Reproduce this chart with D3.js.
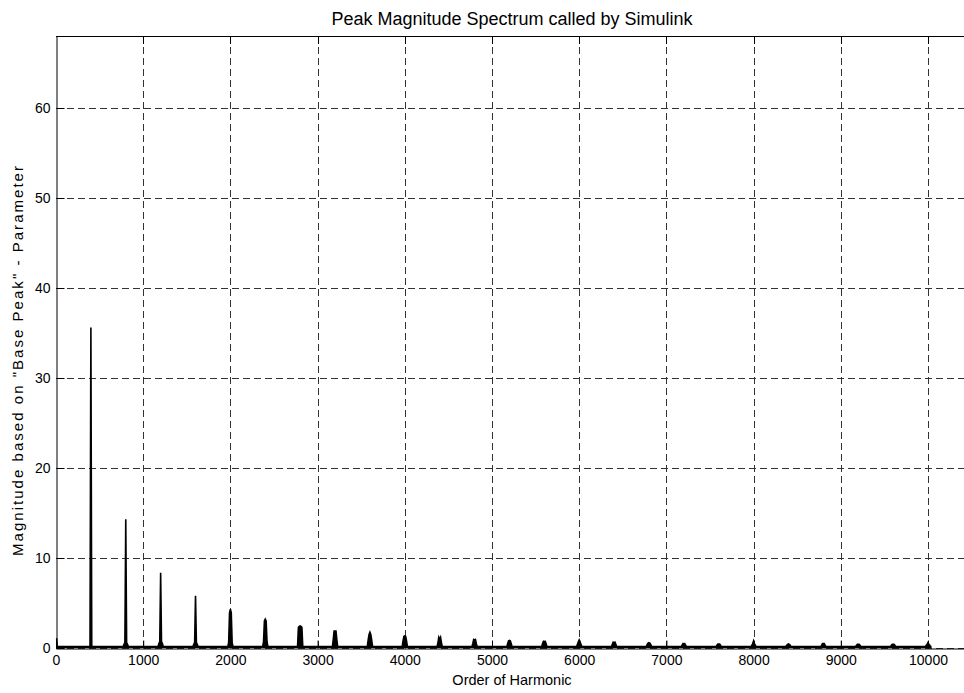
<!DOCTYPE html>
<html>
<head>
<meta charset="utf-8">
<script src="https://cdn.jsdelivr.net/npm/d3@7"></script>
<style>
  html, body { margin: 0; padding: 0; background: #fff; }
  svg { display: block; }
  text { font-family: "Liberation Sans", Arial, Helvetica, sans-serif; fill: #000; }
</style>
</head>
<body>
<svg id="chart" width="964" height="693"></svg>
<script>
// ---- data ----
const chartTitle = "Peak Magnitude Spectrum called by Simulink";
const xLabel = "Order of Harmonic";
const yLabel = "Magnitude based on \"Base Peak\" - Parameter";

const xTicks = [0, 1000, 2000, 3000, 4000, 5000, 6000, 7000, 8000, 9000, 10000];
const yTicks = [0, 10, 20, 30, 40, 50, 60];

// harmonic cluster centres (orders)
const clusterOrders = [400, 800, 1200, 1600, 2000, 2400, 2800, 3200, 3600, 4000,
  4400, 4800, 5200, 5600, 6000, 6400, 6800, 7200, 7600, 8000, 8400, 8800, 9200, 9600, 10000];
// magnitude at the cluster centre
const centreMags = [35.6, 14.3, 8.35, 5.8, 4.3, 3.2, 2.45, 1.6, 1.75, 1.35,
  1.0, 0.9, 0.85, 0.7, 0.9, 0.6, 0.6, 0.45, 0.45, 0.8, 0.45, 0.5, 0.4, 0.4, 0.6];
// magnitude of inner side lines (±10 orders)
const innerMags = [0.3, 0.6, 0.7, 0.6, 3.9, 3.0, 2.4, 1.95, 1.5, 1.3,
  1.2, 0.95, 0.8, 0.75, 0.7, 0.65, 0.55, 0.5, 0.45, 0.5, 0.4, 0.5, 0.4, 0.4, 0.4];
// magnitude of outer side lines (±20 orders)
const outerMags = [0.1, 0.4, 0.5, 0.4, 0.6, 0.7, 2.3, 1.0, 0.9, 0.8,
  0.6, 0.5, 0.5, 0.5, 0.4, 0.4, 0.4, 0.3, 0.3, 0.3, 0.3, 0.3, 0.3, 0.3, 0.3];
// background (noise floor) level and DC component
const floorMag = 0.15;
const dcMag = 1.0;
const lastOrder = 10040;

// ---- layout ----
const svg = d3.select("#chart");
const plotBottom = 648;
const x = d3.scaleLinear().domain([0, 10500]).range([56, 56 + 10500 * 0.0872]);
const y = d3.scaleLinear().domain([0, 68]).range([plotBottom, 36]);
const xr = x.range(), yr = y.range();

// build the spectrum points from the arrays
const spectrum = [[0, dcMag], [8, dcMag], [14, floorMag]];
clusterOrders.forEach((c, i) => {
  spectrum.push([c - 30, floorMag]);
  spectrum.push([c - 20, outerMags[i]]);
  spectrum.push([c - 10, innerMags[i]]);
  spectrum.push([c, centreMags[i]]);
  spectrum.push([c + 10, innerMags[i]]);
  spectrum.push([c + 20, outerMags[i]]);
  spectrum.push([c + 30, floorMag]);
});
spectrum.push([lastOrder, floorMag]);

// grid
const grid = svg.append("g").attr("stroke", "#333").attr("stroke-width", 1)
  .attr("stroke-dasharray", "7,4").attr("fill", "none");
grid.selectAll("line.v").data(xTicks.filter(d => d > 0)).enter().append("line")
  .attr("x1", d => Math.round(x(d)) + 0.5).attr("x2", d => Math.round(x(d)) + 0.5)
  .attr("y1", yr[0]).attr("y2", yr[1]);
grid.selectAll("line.h").data(yTicks).enter().append("line")
  .attr("x1", xr[0]).attr("x2", xr[1])
  .attr("y1", d => Math.round(y(d)) + 0.5).attr("y2", d => Math.round(y(d)) + 0.5);

// spectrum: filled under the curve plus outline
svg.append("path").datum(spectrum)
  .attr("fill", "#000").attr("stroke", "none")
  .attr("d", d3.area().x(d => x(d[0])).y0(y(0)).y1(d => y(d[1])));
svg.append("path").datum(spectrum)
  .attr("fill", "none").attr("stroke", "#000").attr("stroke-width", 1.6)
  .attr("d", d3.line().x(d => x(d[0])).y(d => y(d[1])));

// axes (MATLAB style box with inward ticks)
const tickLen = 8;
const fmt = d3.format("d");
const xAxis = d3.axisBottom(x).tickValues(xTicks).tickFormat(fmt)
  .tickSizeInner(-tickLen).tickSizeOuter(0).tickPadding(7);
const gx = svg.append("g").attr("transform", `translate(0,${plotBottom + 0.5})`).call(xAxis);
gx.select(".domain").attr("stroke", "#000").attr("stroke-width", 1.2);
gx.selectAll("line").attr("stroke", "#000");
gx.selectAll("text").style("font-size", "14px");

const yAxis = d3.axisLeft(y).tickValues(yTicks).tickFormat(fmt)
  .tickSizeInner(-tickLen).tickSizeOuter(0).tickPadding(6);
const gy = svg.append("g").attr("transform", `translate(${xr[0] + 0.5},0)`).call(yAxis);
gy.select(".domain").attr("stroke", "#000");
gy.selectAll("line").attr("stroke", "#000");
gy.selectAll("text").style("font-size", "14px");

// top box line with inward ticks
const topG = svg.append("g");
topG.append("line").attr("x1", xr[0]).attr("x2", xr[1])
  .attr("y1", yr[1] + 0.5).attr("y2", yr[1] + 0.5).attr("stroke", "#000").attr("stroke-width", 1);
topG.selectAll("line.t").data(xTicks.filter(d => d > 0)).enter().append("line")
  .attr("x1", d => Math.round(x(d)) + 0.5).attr("x2", d => Math.round(x(d)) + 0.5)
  .attr("y1", yr[1]).attr("y2", yr[1] + tickLen).attr("stroke", "#000");

// labels
svg.append("text").attr("x", 512).attr("y", 25).attr("text-anchor", "middle")
  .style("font-size", "18px").text(chartTitle);
svg.append("text").attr("x", 512).attr("y", 685).attr("text-anchor", "middle")
  .style("font-size", "14.5px").text(xLabel);
svg.append("text").attr("transform", `translate(23,361) rotate(-90)`).attr("text-anchor", "middle")
  .attr("textLength", 390).attr("lengthAdjust", "spacing")
  .style("font-size", "15px").text(yLabel);
</script>
</body>
</html>
